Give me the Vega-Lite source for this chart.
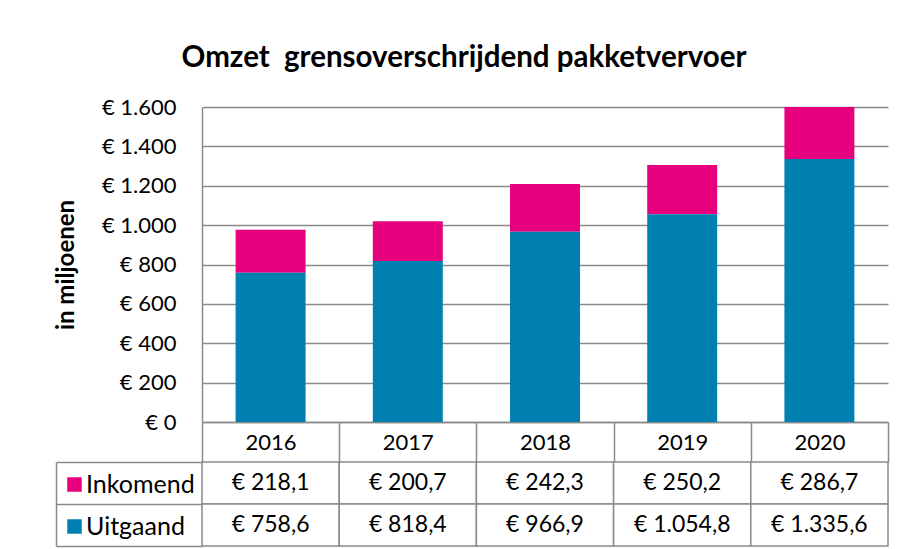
{
  "$schema": "https://vega.github.io/schema/vega-lite/v6.json",
  "background": "white",
  "padding": {"left": 54, "top": 42, "right": 14, "bottom": 4},
  "config": {
    "locale": {"number": {"decimal": ",", "thousands": ".", "grouping": [3], "currency": ["€ ", ""]}},
    "font": "Lato",
    "view": {"stroke": null},
    "axis": {"labelFont": "Lato", "titleFont": "Lato", "labelColor": "#000000", "titleColor": "#000000"}
  },
  "datasets": {
    "omzet": [
      {"year": "2016", "series": "Inkomend", "value": 218.1},
      {"year": "2017", "series": "Inkomend", "value": 200.7},
      {"year": "2018", "series": "Inkomend", "value": 242.3},
      {"year": "2019", "series": "Inkomend", "value": 250.2},
      {"year": "2020", "series": "Inkomend", "value": 286.7},
      {"year": "2016", "series": "Uitgaand", "value": 758.6},
      {"year": "2017", "series": "Uitgaand", "value": 818.4},
      {"year": "2018", "series": "Uitgaand", "value": 966.9},
      {"year": "2019", "series": "Uitgaand", "value": 1054.8},
      {"year": "2020", "series": "Uitgaand", "value": 1335.6}
    ]
  },
  "spacing": 40,
  "bounds": "flush",
  "resolve": {"scale": {"color": "independent", "x": "independent"}, "legend": {"color": "independent"}},
  "vconcat": [
    {
      "width": 686,
      "height": 315,
      "data": {"name": "omzet"},
      "title": {"text": "Omzet \u00a0grensoverschrijdend pakketvervoer", "font": "Lato", "fontSize": 29.5, "fontWeight": "bold", "color": "#000000", "anchor": "middle", "dx": -81, "offset": 23},
      "mark": {"type": "bar", "width": {"band": 0.51}, "clip": true},
      "encoding": {
        "x": {
          "field": "year", "type": "ordinal",
          "scale": {"paddingInner": 0, "paddingOuter": 0},
          "axis": {"title": null, "orient": "bottom", "domainColor": "#8a8a8a", "domainWidth": 1.5, "ticks": true, "tickBand": "extent", "tickSize": 40, "tickColor": "#8a8a8a", "tickWidth": 1.5, "labelFontSize": 22, "labelBaseline": "middle", "labelPadding": -20, "labelAngle": 0, "grid": false}
        },
        "y": {
          "field": "value", "type": "quantitative", "stack": "zero",
          "scale": {"domain": [0, 1600], "nice": false},
          "axis": {"title": "in miljoenen", "values": [0, 200, 400, 600, 800, 1000, 1200, 1400, 1600], "format": "$,.0f", "labelFontSize": 22, "labelPadding": 26, "ticks": false, "domainColor": "#8a8a8a", "domainWidth": 1.5, "gridColor": "#8a8a8a", "gridWidth": 1.5, "titleFontSize": 24, "titleFontWeight": "bold", "titlePadding": 23}
        },
        "color": {"field": "series", "type": "nominal", "scale": {"domain": ["Inkomend", "Uitgaand"], "range": ["#E6007E", "#0080B0"]}, "legend": null},
        "order": {"field": "series", "sort": "descending"}
      }
    },
    {
      "width": 686,
      "height": 84,
      "data": {"name": "omzet"},
      "encoding": {
        "x": {"field": "year", "type": "ordinal", "scale": {"paddingInner": 0, "paddingOuter": 0}, "axis": null},
        "y": {
          "field": "series", "type": "nominal",
          "scale": {"domain": ["Inkomend", "Uitgaand"], "paddingInner": 0, "paddingOuter": 0},
          "axis": {"orient": "left", "offset": 146, "title": null, "labels": false, "domain": true, "domainColor": "#8a8a8a", "domainWidth": 1.5, "ticks": true, "tickBand": "extent", "tickSize": -146, "tickColor": "#8a8a8a", "tickWidth": 1.5, "grid": false}
        }
      },
      "layer": [
        {"mark": {"type": "rect", "fill": "white", "stroke": "#8a8a8a", "strokeWidth": 1.5}},
        {"mark": {"type": "text", "fontSize": 23, "font": "Lato", "color": "#000000"}, "encoding": {"text": {"field": "value", "type": "quantitative", "format": "$,.1f"}}},
        {
          "mark": {"type": "point", "shape": "square", "filled": true, "opacity": 0},
          "encoding": {
            "color": {
              "field": "series", "type": "nominal",
              "scale": {"domain": ["Inkomend", "Uitgaand"], "range": ["#E6007E", "#0080B0"]},
              "legend": {"orient": "none", "legendX": -140, "legendY": 10, "title": null, "symbolType": "square", "symbolSize": 210, "symbolStrokeWidth": 0, "symbolOpacity": 1, "labelFont": "Lato", "labelFontSize": 25, "labelColor": "#000000", "labelOffset": -1, "rowPadding": 16, "padding": 0}
            }
          }
        }
      ]
    }
  ]
}
